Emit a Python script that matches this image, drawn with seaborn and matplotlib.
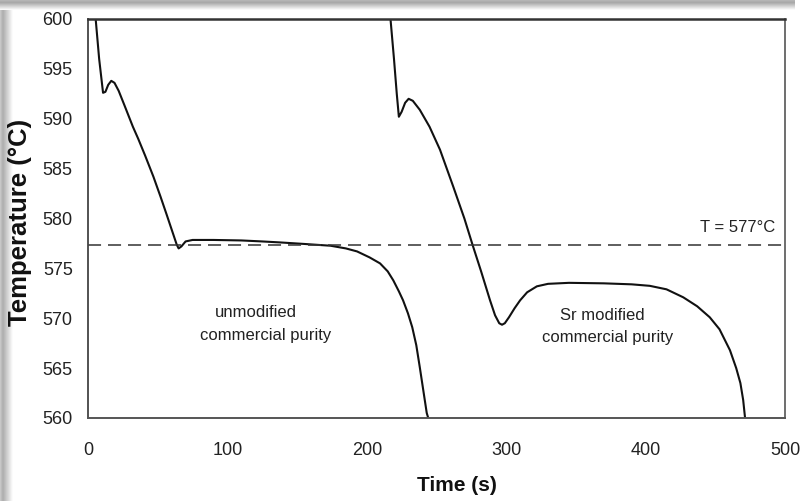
import numpy as np
import pandas as pd
import matplotlib
matplotlib.use("Agg")
import matplotlib.pyplot as plt
import seaborn as sns

# ---- data ----
time_unmod = [4, 5.5, 8, 10.8, 12.5, 14.5, 16.7, 19, 22, 26, 32.2, 36, 41, 46.9, 52, 56.4, 60,
              63.6, 65, 67, 70, 75, 90, 110, 125, 138, 155, 174, 185, 193, 202, 209.5, 215,
              219, 223, 226, 229.5, 232.6, 235.5, 238, 240.5, 243, 244.5]
temp_unmod = [601, 600, 596, 592.6, 592.7, 593.4, 593.8, 593.6, 592.8, 591.4, 589.2, 588.0, 586.3,
              584.2, 582.2, 580.4, 578.9, 577.4, 577.0, 577.2, 577.7, 577.85, 577.85, 577.8, 577.7,
              577.6, 577.45, 577.27, 577.0, 576.7, 576.1, 575.5, 574.7, 573.8, 572.7, 571.8,
              570.5, 569.1, 567.3, 565.1, 562.8, 560.5, 559.8]

time_sr = [216, 217, 219.5, 221.5, 223, 225, 227.5, 230, 233, 238, 245, 252.5, 262, 270, 276,
           282, 288.4, 292, 295, 297, 299, 302, 306, 310, 315, 322, 330, 345, 370, 390, 403,
           415, 427, 437, 446, 453, 460.5, 465, 468, 470, 471.5]
temp_sr = [601, 600, 596, 592.5, 590.2, 590.7, 591.6, 592.0, 591.8, 590.9, 589.2, 586.9, 583.2,
           580.0, 577.3, 574.7, 571.8, 570.3, 569.5, 569.35, 569.5, 570.1, 571.0, 571.8, 572.6,
           573.2, 573.45, 573.55, 573.5, 573.4, 573.25, 572.9, 572.1, 571.2, 570.1, 568.9,
           566.8, 565.0, 563.5, 561.8, 559.8]

eutectic_temp = 577.3
x_ticks = [0, 100, 200, 300, 400, 500]
y_ticks = [560, 565, 570, 575, 580, 585, 590, 595, 600]

labels_text = ["T = 577°C", "unmodified", "commercial purity", "Sr modified", "commercial purity"]
labels_x = [493, 120.5, 127.6, 368.7, 372.7]
labels_y = [579.05, 570.6, 568.3, 570.3, 568.1]
labels_ha = ["right", "center", "center", "center", "center"]

# ---- style ----
sns.set_theme(style="white")
plt.rcParams['font.family'] = ['Liberation Sans', 'DejaVu Sans']
plt.rcParams['lines.scale_dashes'] = False

W, H = 807, 501
fig = plt.figure(figsize=(W / 100, H / 100), dpi=100)
fig.patch.set_facecolor('white')

# drop-shadow frame (decoration)
grad_left = np.concatenate([np.linspace(0.80, 0.68, 12), np.linspace(0.68, 1.0, 40)])[None, :]
axl = fig.add_axes([0, 0, 13 / W, 1])
axl.imshow(grad_left, cmap='gray', vmin=0, vmax=1, aspect='auto', extent=[0, 1, 0, 1])
axl.set_axis_off()
grad_top = np.concatenate([np.linspace(0.72, 0.66, 10), np.linspace(0.66, 1.0, 30)])[:, None]
axt = fig.add_axes([0, 1 - 10 / H, 0.985, 10 / H])
axt.imshow(grad_top, cmap='gray', vmin=0, vmax=1, aspect='auto',
           extent=[0, 1, 0, 1], origin='upper')
axt.set_axis_off()

ax = fig.add_axes([88 / W, 1 - 418 / H, (785 - 88) / W, (418 - 19) / H])

df1 = pd.DataFrame({'Time (s)': time_unmod, 'Temperature': temp_unmod})
df2 = pd.DataFrame({'Time (s)': time_sr, 'Temperature': temp_sr})
sns.lineplot(data=df1, x='Time (s)', y='Temperature', sort=False, ax=ax,
             color='#111111', lw=1.5, estimator=None)
sns.lineplot(data=df2, x='Time (s)', y='Temperature', sort=False, ax=ax,
             color='#111111', lw=1.5, estimator=None)
ax.axhline(eutectic_temp, color='#333333', lw=1.1, linestyle=(0, (9.4, 5.0)))

ax.set_xlim(0, 500)
ax.set_ylim(560, 600)
ax.set_xticks(x_ticks)
ax.set_yticks(y_ticks)
ax.set_xticklabels([str(v) for v in x_ticks])
ax.set_yticklabels([str(v) for v in y_ticks])
ax.tick_params(axis='both', direction='in', length=3, width=0.8, colors='#999999',
               labelcolor='#222222', labelsize=13)
ax.tick_params(axis='x', pad=17)
ax.tick_params(axis='y', pad=11)

for side, lw, col in [('top', 1.8, '#333333'), ('left', 1.3, '#444444'),
                      ('bottom', 1.4, '#555555'), ('right', 1.2, '#555555')]:
    ax.spines[side].set_visible(True)
    ax.spines[side].set_linewidth(lw)
    ax.spines[side].set_color(col)

ax.set_xlabel('Time (s)', fontsize=15, fontweight='bold', color='#111111')
ax.xaxis.set_label_coords((457 - 88) / 697, -(476 - 418) / 399)
ax.set_ylabel('Temperature (°C)', fontsize=18.5, fontweight='bold', color='#111111')
ax.yaxis.set_label_coords(-(88 - 32) / 697, (418 - 222) / 399)

for txt, xx, yy, ha in zip(labels_text, labels_x, labels_y, labels_ha):
    ax.text(xx, yy, txt, ha=ha, va='center', fontsize=12, color='#222222')

fig.savefig('out.png', dpi=100, facecolor='white')
